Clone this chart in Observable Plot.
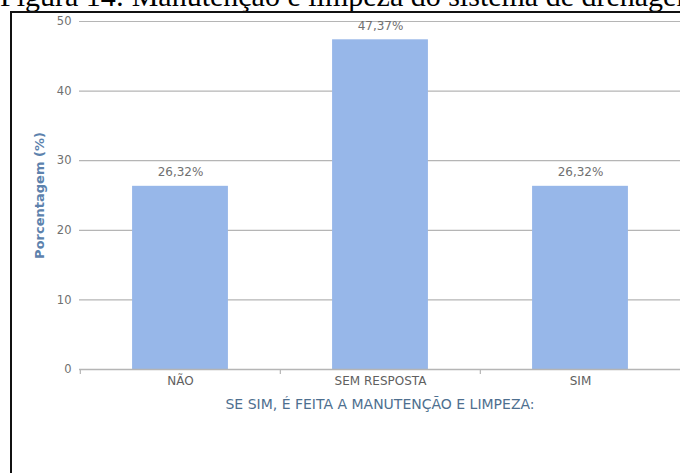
<!DOCTYPE html>
<html>
<head>
<meta charset="utf-8">
<script src="https://cdn.jsdelivr.net/npm/d3@7"></script>
<script src="https://cdn.jsdelivr.net/npm/@observablehq/plot@0.6"></script>
<style>
  html, body { margin: 0; padding: 0; background: #fff; }
  #wrap { position: relative; width: 680px; height: 473px; overflow: hidden; background: #fff; }
  #title { position: absolute; left: 0; top: -17px; white-space: nowrap; font-family: "Liberation Serif", "Times New Roman", serif; font-size: 30px; line-height: 26px; color: #000; }
  #frame { position: absolute; left: 10px; top: 11px; width: 700px; height: 500px; border-left: 2px solid #111; border-top: 2px solid #111; box-sizing: border-box; }
  #chart { position: absolute; left: 0; top: 0; }
</style>
</head>
<body>
<div id="wrap">
  <div id="title">Figura 14: Manutenção e limpeza do sistema de drenagem</div>
  <div id="frame"></div>
  <div id="chart"></div>
</div>
<script>
const categories = ["NÃO", "SEM RESPOSTA", "SIM"];
const values = [26.32, 47.37, 26.32];
const valueLabels = ["26,32%", "47,37%", "26,32%"];
const yTicks = [0, 10, 20, 30, 40, 50];
const xTitle = "SE SIM, É FEITA A MANUTENÇÃO E LIMPEZA:";
const yTitle = "Porcentagem (%)";

const data = categories.map((c, i) => ({cat: c, value: values[i], label: valueLabels[i]}));

const W = 680, H = 473;
const mL = 79, mR = 0, mT = 21, mB = 104;
const step = (W - mL - mR) / categories.length;
const font = "'DejaVu Sans', Verdana, sans-serif";

const plot = Plot.plot({
  width: W,
  height: H,
  marginLeft: mL,
  marginRight: mR,
  marginTop: mT,
  marginBottom: mB,
  style: {fontFamily: font, fontSize: "11px", color: "#666", background: "transparent"},
  x: {domain: categories, padding: 0, label: null},
  y: {domain: [0, 50], label: null},
  marks: [
    Plot.gridY(yTicks.filter(d => d > 0), {stroke: "#b5b5b5", strokeOpacity: 1, strokeWidth: 1.2}),
    Plot.barY(data, {x: "cat", y: "value", fill: "#97b7e9", insetLeft: step * 0.26, insetRight: step * 0.26}),
    Plot.ruleY([0], {stroke: "#b5b5b5", strokeWidth: 1.5}),
    Plot.ruleX(categories, {x: d => d, y1: 0, y2: 0, dx: -step / 2, insetBottom: -5, stroke: "#b5b5b5", strokeWidth: 1.2}),
    Plot.axisY(yTicks, {tickSize: 0, tickPadding: 8, fill: "#707070", fontSize: 11.5, label: null}),
    Plot.axisX({tickSize: 0, tickPadding: 7, fill: "#606060", fontSize: 12, label: null}),
    Plot.text(data, {x: "cat", y: "value", text: "label", dy: -14, fill: "#707070", fontSize: 12}),
    Plot.text([xTitle], {frameAnchor: "bottom", dy: 39, fill: "#4e6f8f", fontSize: 14, text: d => d}),
    Plot.text([yTitle], {frameAnchor: "left", textAnchor: "middle", dx: -40, rotate: -90, fill: "#5d82ad", fontSize: 13, fontWeight: "bold", text: d => d})
  ]
});
document.getElementById("chart").appendChild(plot);
</script>
</body>
</html>
